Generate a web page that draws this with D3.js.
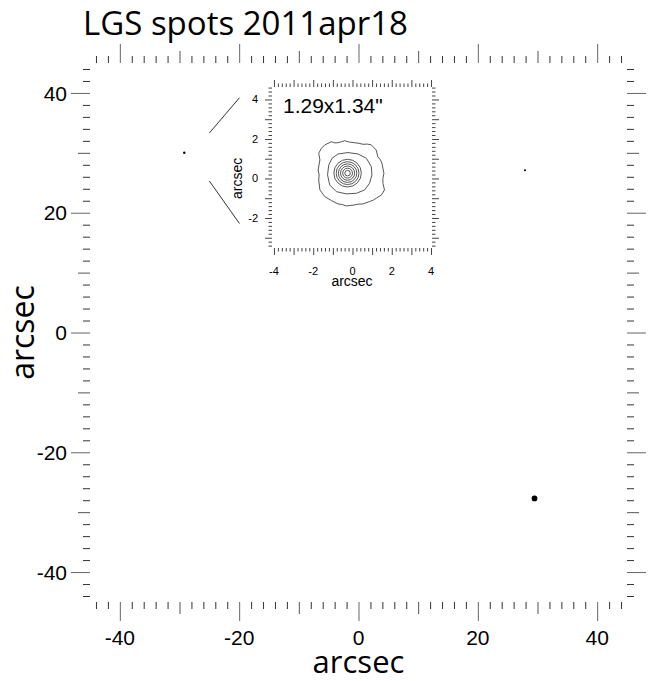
<!DOCTYPE html>
<html>
<head>
<meta charset="utf-8">
<script src="https://cdn.jsdelivr.net/npm/d3@7"></script>
<style>
  body { margin: 0; background: #fff; }
  text { font-family: "Liberation Sans", Arial, sans-serif; fill: #000; }
  .big { font-family: "Open Sans", "Noto Sans", sans-serif; }
</style>
</head>
<body>
<svg id="chart" width="648" height="681"></svg>
<script>
// ---- data -------------------------------------------------------------
const titleText = "LGS spots 2011apr18";
const axisName = "arcsec";

// laser guide star spots on the field (arcsec) and their relative peak
const spotX = [-29.2, 27.9, 29.5];
const spotY = [30.0, 27.1, -27.7];
const spotPeak = [0.18, 0.13, 1.0];

// main axis ticks
const mainTickValues = [-40, -20, 0, 20, 40];
const mainTickLabels = ["-40", "-20", "0", "20", "40"];
const mainMidTicks = [-30, -10, 10, 30];

// zoomed spot: measured FWHM (arcsec)
const fwhmX = 1.29;
const fwhmY = 1.34;

// inset tick labels
const insetXTicks = [-4, -2, 0, 2, 4];
const insetYTicks = [-2, 0, 2, 4];

// outer contours of the spot profile (arcsec offsets)
const contourOuter = [
  [-1.41, 1.70], [-1.07, 1.86], [-0.90, 1.80], [-0.74, 1.81], [-0.55, 1.86], [-0.40, 1.91],
  [-0.15, 1.84], [0.11, 1.81], [0.33, 1.78], [0.53, 1.73], [0.75, 1.74], [0.96, 1.70],
  [1.21, 1.44], [1.29, 1.10], [1.42, 0.95], [1.50, 0.77], [1.60, 0.26], [1.55, 0.00],
  [1.55, -0.24], [1.63, -0.58], [1.47, -0.84], [1.21, -1.00], [1.05, -1.10], [0.87, -1.17],
  [0.53, -1.29], [0.30, -1.30], [0.11, -1.34], [-0.31, -1.39], [-0.52, -1.32], [-0.74, -1.29],
  [-1.07, -1.12], [-1.41, -0.92], [-1.66, -0.58], [-1.72, -0.08], [-1.70, 0.18], [-1.75, 0.43],
  [-1.66, 0.94], [-1.72, 1.28], [-1.58, 1.53]
];
const contourSecond = [
  [-0.74, 1.24], [-0.23, 1.31], [0.28, 1.24], [0.71, 1.02], [0.96, 0.60], [0.99, 0.18],
  [0.87, -0.24], [0.62, -0.58], [0.20, -0.75], [-0.31, -0.78], [-0.82, -0.67], [-1.16, -0.33],
  [-1.27, 0.18], [-1.21, 0.68], [-1.04, 1.02]
];
const coreCenter = [-0.25, 0.27];
const coreRadii = [0.70, 0.58, 0.47, 0.36, 0.25, 0.14];

// magnifier guide lines from spot A toward the inset (main-axis arcsec)
const guideUpper = [[-25.0, 33.3], [-19.95, 39.2]];
const guideLower = [[-25.0, 25.3], [-19.95, 18.2]];

// ---- main panel -------------------------------------------------------
const svg = d3.select("#chart");
const x = d3.scaleLinear().domain([-45, 45]).range([90, 627]);
const y = d3.scaleLinear().domain([-45, 45]).range([602, 63]);

const minorVals = d3.range(-22, 23).map(i => i * 2).filter(v => v % 10 !== 0);

function tickTier(axisFn, scale, values, size, color) {
  return g => {
    g.call(axisFn(scale).tickValues(values).tickSize(size).tickFormat(""));
    g.select(".domain").remove();
    g.selectAll(".tick line").attr("stroke", color);
  };
}

const sides = [
  { fn: d3.axisBottom, s: x, t: `translate(0,${y.range()[0]})` },
  { fn: d3.axisTop, s: x, t: `translate(0,${y.range()[1]})` },
  { fn: d3.axisLeft, s: y, t: `translate(${x.range()[0]},0)` },
  { fn: d3.axisRight, s: y, t: `translate(${x.range()[1]},0)` }
];
sides.forEach(sd => {
  const g = svg.append("g").attr("transform", sd.t);
  g.append("g").call(tickTier(sd.fn, sd.s, minorVals, 7, "#333"));
  g.append("g").call(tickTier(sd.fn, sd.s, mainMidTicks, 12, "#555"));
  g.append("g").call(tickTier(sd.fn, sd.s, mainTickValues, 19, "#666"));
});

// tick labels
svg.append("g").selectAll("text").data(mainTickValues).join("text")
  .attr("x", d => x(d)).attr("y", 645)
  .attr("text-anchor", "middle").attr("font-size", 21)
  .text((d, i) => mainTickLabels[i]);
svg.append("g").selectAll("text").data(mainTickValues).join("text")
  .attr("x", 67).attr("y", d => y(d)).attr("dy", "0.36em")
  .attr("text-anchor", "end").attr("font-size", 21)
  .text((d, i) => mainTickLabels[i]);

// axis titles and title
svg.append("text").attr("class", "big")
  .attr("x", (x.range()[0] + x.range()[1]) / 2).attr("y", 673)
  .attr("text-anchor", "middle").attr("font-size", 31).text(axisName);
svg.append("text").attr("class", "big")
  .attr("transform", `translate(34,${y(0)}) rotate(-90)`)
  .attr("text-anchor", "middle").attr("font-size", 32).text(axisName);
svg.append("text").attr("class", "big")
  .attr("x", 83).attr("y", 35).attr("font-size", 33).text(titleText);

// spots
const rSpot = d3.scaleSqrt().domain([0, 1]).range([0, 2.9]);
svg.append("g").selectAll("circle").data(spotX).join("circle")
  .attr("cx", (d, i) => x(spotX[i]))
  .attr("cy", (d, i) => y(spotY[i]))
  .attr("r", (d, i) => rSpot(spotPeak[i]))
  .attr("fill", "#000");

// guide lines
const lineMain = d3.line().x(d => x(d[0])).y(d => y(d[1]));
[guideUpper, guideLower].forEach(seg => {
  svg.append("path").attr("d", lineMain(seg))
    .attr("fill", "none").attr("stroke", "#333").attr("stroke-width", 1);
});

// ---- inset: zoomed spot profile ---------------------------------------
const ix = d3.scaleLinear().domain([-4.1, 4.05]).range([272, 432]);
const iy = d3.scaleLinear().domain([-3.52, 4.63]).range([248, 87]);
const inset = svg.append("g");

const ixMinor = d3.range(-20, 21).filter(i => i % 5 !== 0).map(i => i / 5);
const ixMajor = d3.range(-4, 5);
const iyMinor = d3.range(-17, 24).filter(i => i % 5 !== 0).map(i => i / 5);
const iyMajor = d3.range(-3, 5);

const insetSides = [
  { fn: d3.axisBottom, s: ix, t: `translate(0,${iy.range()[0]})`, mi: ixMinor, ma: ixMajor },
  { fn: d3.axisTop, s: ix, t: `translate(0,${iy.range()[1]})`, mi: ixMinor, ma: ixMajor },
  { fn: d3.axisLeft, s: iy, t: `translate(${ix.range()[0]},0)`, mi: iyMinor, ma: iyMajor },
  { fn: d3.axisRight, s: iy, t: `translate(${ix.range()[1]},0)`, mi: iyMinor, ma: iyMajor }
];
insetSides.forEach(sd => {
  const g = inset.append("g").attr("transform", sd.t);
  g.append("g").call(tickTier(sd.fn, sd.s, sd.mi, 3.5, "#444"));
  g.append("g").call(tickTier(sd.fn, sd.s, sd.ma, 7, "#444"));
});

inset.append("g").selectAll("text").data(insetXTicks).join("text")
  .attr("x", d => ix(d)).attr("y", 274.5)
  .attr("text-anchor", "middle").attr("font-size", 11).attr("fill", "#222")
  .text(d => d);
inset.append("g").selectAll("text").data(insetYTicks).join("text")
  .attr("x", 258).attr("y", d => iy(d)).attr("dy", "0.36em")
  .attr("text-anchor", "end").attr("font-size", 11).attr("fill", "#222")
  .text(d => d);

inset.append("text")
  .attr("x", (ix.range()[0] + ix.range()[1]) / 2).attr("y", 286)
  .attr("text-anchor", "middle").attr("font-size", 14).attr("fill", "#222")
  .text(axisName);
inset.append("text")
  .attr("transform", `translate(242,${iy(0)}) rotate(-90)`)
  .attr("text-anchor", "middle").attr("font-size", 14).attr("fill", "#222")
  .text(axisName);

inset.append("text")
  .attr("x", 283).attr("y", 113).attr("font-size", 21)
  .text(`${fwhmX.toFixed(2)}x${fwhmY.toFixed(2)}"`);

const lineInset = d3.line().x(d => ix(d[0])).y(d => iy(d[1])).curve(d3.curveLinearClosed);
[contourOuter, contourSecond].forEach(c => {
  inset.append("path").attr("d", lineInset(c))
    .attr("fill", "none").attr("stroke", "#444").attr("stroke-width", 0.9);
});
inset.append("g").selectAll("ellipse").data(coreRadii).join("ellipse")
  .attr("cx", ix(coreCenter[0])).attr("cy", iy(coreCenter[1]))
  .attr("rx", d => ix(d) - ix(0))
  .attr("ry", d => iy(0) - iy(d))
  .attr("fill", "none").attr("stroke", "#444").attr("stroke-width", 0.9);
</script>
</body>
</html>
